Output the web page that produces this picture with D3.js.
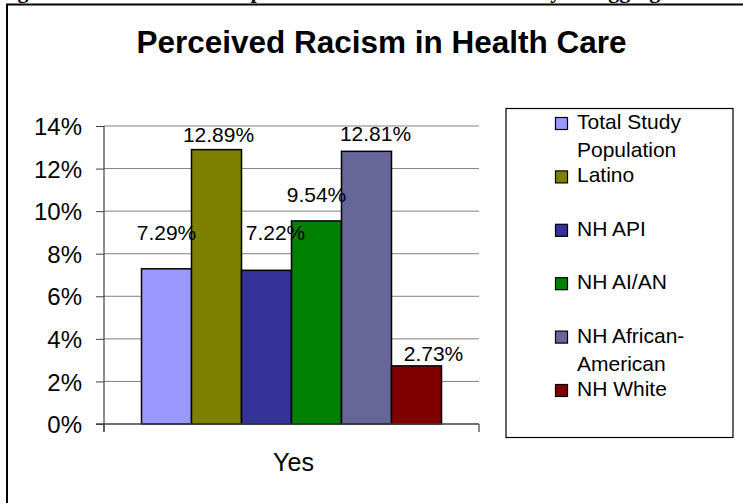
<!DOCTYPE html>
<html>
<head>
<meta charset="utf-8">
<script src="https://cdn.jsdelivr.net/npm/d3@7"></script>
<style>
  html, body { margin: 0; padding: 0; background: #fff; overflow: hidden; }
  svg { display: block; font-family: Arial, "Liberation Sans", sans-serif; }
</style>
</head>
<body>
<svg id="chart" width="743" height="503"></svg>
<script>
// Share of respondents reporting perceived racism in health care, by group
const groups = ["Total Study Population", "Latino", "NH API", "NH AI/AN", "NH African-American", "NH White"];
const values = [7.29, 12.89, 7.22, 9.54, 12.81, 2.73];
const legendLines = [["Total Study", "Population"], ["Latino"], ["NH API"], ["NH AI/AN"], ["NH African-", "American"], ["NH White"]];
const colors = ["#9999ff", "#808000", "#333399", "#008000", "#666699", "#800000"];
const yTicks = [0, 2, 4, 6, 8, 10, 12, 14];
const category = "Yes";
const title = "Perceived Racism in Health Care";
const caption = "Figure 10: Rates of Self-Reported Racism in Health Care by Disaggregated Race/Ethnicity";

// placement of each value label relative to the top centre of its bar (px)
const labelLift = [29, 8, 30, 19, 10, 5];
const labelNudge = [0, 2, 9, 0, 9, 17];

const svg = d3.select("#chart");

// caption line running off the top of the page
svg.append("text")
  .attr("x", -2).attr("y", -2)
  .attr("font-family", "'Liberation Serif', 'Times New Roman', serif")
  .attr("font-weight", "bold").attr("font-size", 22)
  .text(caption);

// outer frame
svg.append("rect")
  .attr("x", 7).attr("y", 4.5).attr("width", 800).attr("height", 600)
  .attr("fill", "none").attr("stroke", "#000").attr("stroke-width", 2);

// chart title
svg.append("text")
  .attr("x", 381.5).attr("y", 53).attr("text-anchor", "middle")
  .attr("font-weight", "bold").attr("font-size", 31.5)
  .text(title);

const plot = { left: 104, right: 479, top: 126, bottom: 424 };

const y = d3.scaleLinear().domain([0, 14]).range([plot.bottom, plot.top]);
const xOuter = d3.scaleBand().domain([category]).range([plot.left, plot.right]).paddingInner(0).paddingOuter(0.1);
const groupWidth = 300;
const x = d3.scaleBand().domain(groups)
  .range([xOuter(category) + (xOuter.bandwidth() - groupWidth) / 2, xOuter(category) + (xOuter.bandwidth() + groupWidth) / 2])
  .padding(0);

// horizontal gridlines
svg.append("g").selectAll("line")
  .data(yTicks.filter(t => t > 0))
  .join("line")
  .attr("x1", plot.left).attr("x2", plot.right)
  .attr("y1", d => y(d)).attr("y2", d => y(d))
  .attr("stroke", "#808080").attr("stroke-width", 1);

// y axis
const yAxis = svg.append("g")
  .attr("transform", `translate(${plot.left},0)`)
  .call(d3.axisLeft(y).tickValues(yTicks).tickFormat(d => d + "%").tickSize(8).tickPadding(14));
yAxis.select(".domain").remove();
yAxis.selectAll(".tick line").attr("stroke", "#404040");
yAxis.selectAll(".tick text")
  .attr("font-size", 24).attr("font-family", "Arial, 'Liberation Sans', sans-serif")
  .attr("fill", "#000").attr("dy", "0.36em");
svg.append("line")
  .attr("x1", plot.left).attr("x2", plot.left)
  .attr("y1", plot.top).attr("y2", plot.bottom + 8)
  .attr("stroke", "#404040").attr("stroke-width", 1.2);

// bars
svg.append("g").selectAll("rect")
  .data(values)
  .join("rect")
  .attr("x", (d, i) => x(groups[i]))
  .attr("width", x.bandwidth())
  .attr("y", d => y(d))
  .attr("height", d => y(0) - y(d))
  .attr("fill", (d, i) => colors[i])
  .attr("stroke", "#000").attr("stroke-width", 1.5);

// x axis baseline with end ticks
svg.append("line")
  .attr("x1", plot.left - 8).attr("x2", plot.right)
  .attr("y1", plot.bottom).attr("y2", plot.bottom)
  .attr("stroke", "#404040").attr("stroke-width", 1.5);
[plot.left, plot.right].forEach(px => {
  svg.append("line")
    .attr("x1", px).attr("x2", px)
    .attr("y1", plot.bottom).attr("y2", plot.bottom + 8)
    .attr("stroke", "#404040").attr("stroke-width", 1.2);
});

// value labels
svg.append("g").selectAll("text")
  .data(values)
  .join("text")
  .attr("x", (d, i) => x(groups[i]) + x.bandwidth() / 2 + labelNudge[i])
  .attr("y", (d, i) => y(d) - labelLift[i])
  .attr("text-anchor", "middle")
  .attr("font-size", 21)
  .text(d => d.toFixed(2) + "%");

// category label
svg.append("text")
  .attr("x", xOuter(category) + xOuter.bandwidth() / 2 + 2).attr("y", 471)
  .attr("text-anchor", "middle").attr("font-size", 25)
  .text(category);

// legend
const legend = svg.append("g");
legend.append("rect")
  .attr("x", 506).attr("y", 108.5).attr("width", 227).attr("height", 329)
  .attr("fill", "#fff").attr("stroke", "#000").attr("stroke-width", 1.2);
const entry = legend.selectAll("g.entry")
  .data(groups)
  .join("g")
  .attr("class", "entry")
  .attr("transform", (d, i) => `translate(0,${129 + i * 53.4})`);
entry.append("rect")
  .attr("x", 555.5).attr("y", -11.5).attr("width", 12).attr("height", 12)
  .attr("fill", (d, i) => colors[i]).attr("stroke", "#000").attr("stroke-width", 1.2);
entry.append("text")
  .attr("x", 577).attr("y", 0)
  .attr("font-size", 21)
  .selectAll("tspan")
  .data((d, i) => legendLines[i])
  .join("tspan")
  .attr("x", 577)
  .attr("dy", (d, j) => j === 0 ? 0 : 28)
  .text(d => d);
</script>
</body>
</html>
